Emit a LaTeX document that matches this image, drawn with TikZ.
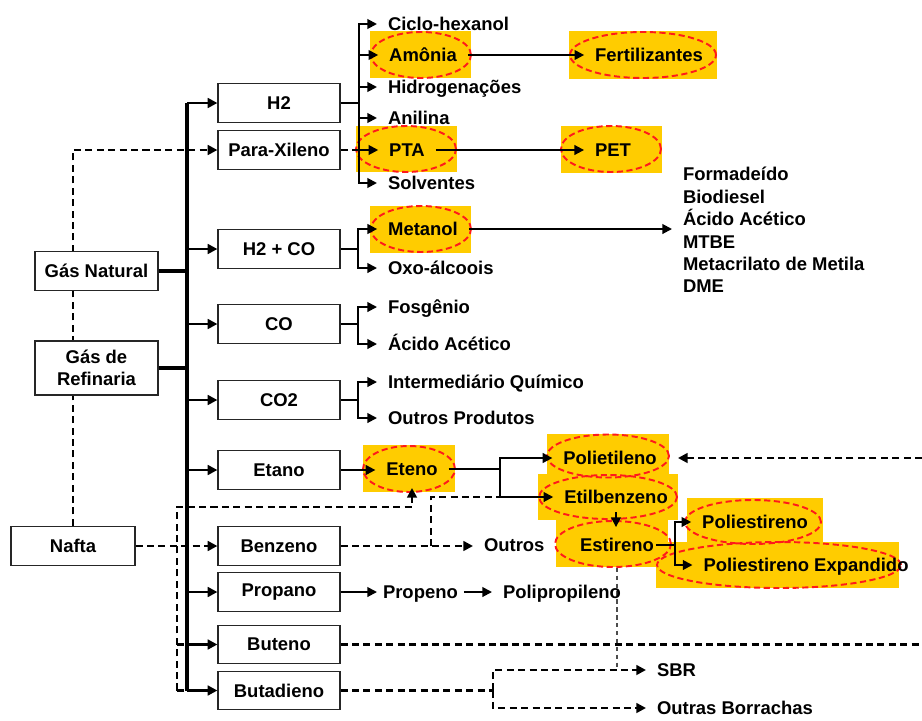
\documentclass[tikz,border=0pt]{standalone}
\usepackage{fontspec}
\setmainfont{Liberation Sans}
\usetikzlibrary{arrows.meta,shapes.geometric,calc,backgrounds}
\definecolor{gold}{HTML}{FFCC00}
\definecolor{dred}{HTML}{FF1A1A}

\begin{document}
\begin{tikzpicture}[x=0.02cm,y=-0.02cm,
  tx/.style={font=\bfseries\fontsize{10.5}{12.8}\selectfont},
  box/.style={tx,draw=black!85,line width=0.7pt,fill=white,minimum width=2.44cm,minimum height=0.77cm,inner sep=0pt,align=center},
  lb/.style={tx,inner sep=0pt,outer xsep=0.22cm,text height=7.5pt,text depth=0pt},
  hle/.style={ellipse,draw=dred,line width=1.1pt,dash pattern=on 3.5pt off 2pt,inner sep=0pt},
  arrowed/.style={-{Triangle[length=5.5pt,width=5.5pt]}},
  trunk/.style={line width=1.8pt},
  tarr/.style={line width=1.4pt,arrowed},
  br/.style={line width=1.1pt},
  dsh/.style={line width=1.5pt,dash pattern=on 4pt off 2.5pt},
  dthin/.style={line width=0.9pt,dash pattern=on 2.5pt off 2pt,black!70},
]
\useasboundingbox (0,0) rectangle (922,720);

% gold highlight backgrounds
\fill[gold] (370,31) rectangle (471,78);
\fill[gold] (569,31) rectangle (717,79);
\fill[gold] (356,126) rectangle (457,172);
\fill[gold] (561,126) rectangle (662,173);
\fill[gold] (370,206) rectangle (471,253);
\fill[gold] (363,445) rectangle (455,492);
\fill[gold] (547,434) rectangle (669,474);
\fill[gold] (538,474) rectangle (678,520);
\fill[gold] (556,520) rectangle (668,567);
\fill[gold] (687,498) rectangle (823,542);
\fill[gold] (656,542) rectangle (899,588);

% dashed red rings
\node[hle,minimum width=2cm,minimum height=0.92cm] (amoniaE) at (421,55) {};
\node[hle,minimum width=2.92cm,minimum height=0.92cm] (fertE) at (643,55) {};
\node[hle,minimum width=2cm,minimum height=0.92cm] (ptaE) at (406,149) {};
\node[hle,minimum width=2cm,minimum height=0.92cm] (petE) at (611,149) {};
\node[hle,minimum width=2cm,minimum height=0.92cm] (metanolE) at (421,229) {};
\node[hle,minimum width=1.84cm,minimum height=0.92cm] (etenoE) at (409,469) {};
\node[hle,minimum width=2.44cm,minimum height=0.86cm] (polieE) at (608,456) {};
\node[hle,minimum width=2.76cm,minimum height=0.88cm] (etilbE) at (608,497) {};
\node[hle,minimum width=2.32cm,minimum height=0.92cm] (estirE) at (613,544) {};
\node[hle,minimum width=2.72cm,minimum height=0.88cm] (pestE) at (753,522) {};
\node[hle,minimum width=4.88cm,minimum height=0.92cm] (pexpE) at (779,565) {};

% highlighted products
\node[lb] (amonia) at (423,55) {Amônia};
\node[lb] (fert) at (649,55) {Fertilizantes};
\node[lb] (pta) at (407,150) {PTA};
\node[lb] (pet) at (613,150) {PET};
\node[lb] (metanol) at (423,229) {Metanol};
\node[lb] (eteno) at (412,469) {Eteno};
\node[lb] (polie) at (610,458) {Polietileno};
\node[lb] (etilb) at (616,497) {Etilbenzeno};
\node[lb,outer xsep=0.04cm] (estir) at (617,545) {Estireno};
\node[lb] (pest) at (755,522) {Poliestireno};
\node[lb] (pexp) at (806,565) {Poliestireno Expandido};

% plain products
\node[lb,anchor=west] (cic) at (377,24) {Ciclo-hexanol};
\node[lb,anchor=west] (hid) at (377,87) {Hidrogenações};
\node[lb,anchor=west] (anil) at (377,118) {Anilina};
\node[lb,anchor=west] (solv) at (377,183) {Solventes};
\node[lb,anchor=west] (oxo) at (377,268) {Oxo-álcoois};
\node[lb,anchor=west] (fosg) at (377,307) {Fosgênio};
\node[lb,anchor=west] (acac) at (377,344) {Ácido Acético};
\node[lb,anchor=west] (inter) at (377,382) {Intermediário Químico};
\node[lb,anchor=west] (outp) at (377,418) {Outros Produtos};
\node[lb,anchor=west] (outros) at (473,545) {Outros};
\node[lb,anchor=west,outer xsep=0.12cm] (propeno) at (377,592) {Propeno};
\node[lb,anchor=west] (polip) at (492,592) {Polipropileno};
\node[lb,anchor=west] (sbr) at (646,670) {SBR};
\node[lb,anchor=west] (oborr) at (646,708) {Outras Borrachas};
\node[tx,anchor=west,align=left,inner sep=0pt,outer xsep=0.22cm] (lista) at (672,230)
  {Formadeído\\Biodiesel\\Ácido Acético\\MTBE\\Metacrilato de Metila\\DME};

% feedstocks and intermediates
\node[box,minimum width=2.46cm] (gn) at (96.5,271) {Gás Natural};
\node[box,minimum width=2.46cm,minimum height=1.08cm] (gr) at (96.5,368) {Gás de\\Refinaria};
\node[box,minimum width=2.48cm,minimum height=0.78cm] (nafta) at (73,546) {Nafta};
\node[box] (h2) at (279,103) {H2};
\node[box] (px) at (279,150) {Para-Xileno};
\node[box] (h2co) at (279,249) {H2 + CO};
\node[box] (co) at (279,324) {CO};
\node[box] (co2) at (279,400) {CO2};
\node[box] (etano) at (279,470) {Etano};
\node[box] (benz) at (279,546) {Benzeno};
\node[box] (prop) at (279,592) {Propano};
\node[box] (but) at (279,644.5) {Buteno};
\node[box] (butd) at (279,690.5) {Butadieno};

% junction points
\coordinate (tTop) at (187,103);
\coordinate (tBot) at (187,690.5);
\coordinate (fH2) at (359,103);
\coordinate (fSyn) at (358,249);
\coordinate (fCO) at (358,324);
\coordinate (fCO2) at (358,400);
\coordinate (fEt) at (500,469);
\coordinate (fSt) at (675,545);
\coordinate (fBd) at (493,690.5);
\coordinate (nvTop) at (177,507);
\coordinate (nvBot) at (177,690.5);
\coordinate (bzUp) at (431,497);
\coordinate (rPE) at (922,458);
\coordinate (rBut) at (922,644.5);

% dashed routes running behind the boxes
\begin{scope}[on background layer]
  \draw[dsh,arrowed] (nafta.north) |- (px.west);
  \draw[dthin] (estir.south) -- (estir.south |- sbr.west);
\end{scope}

% main trunk
\draw[trunk] (tTop) -- (tBot);
\draw[trunk] (gn.east) -- (gn.east -| tTop);
\draw[trunk] (gr.east) -- (gr.east -| tTop);
\foreach \b in {h2,h2co,co,co2,etano,prop,but,butd}
  \draw[tarr] (tTop |- \b.west) -- (\b.west);

% H2 products
\draw[br] (h2.east) -- (fH2);
\foreach \t in {cic,amonia,hid,anil,pta,solv}
  \draw[br,arrowed] (fH2) |- (\t.west);
\draw[dsh] (px.east) -- (px.east -| fH2);
\draw[br,arrowed] (amonia.east) -- (fert.west);
\draw[br,arrowed] (pta.east) -- (pet.west);

% synthesis gas, CO, CO2
\draw[br] (h2co.east) -- (fSyn);
\draw[br,arrowed] (fSyn) |- (metanol.west);
\draw[br,arrowed] (fSyn) |- (oxo.west);
\draw[br,arrowed] (metanol.east) -- (metanol.east -| lista.west);
\draw[br] (co.east) -- (fCO);
\draw[br,arrowed] (fCO) |- (fosg.west);
\draw[br,arrowed] (fCO) |- (acac.west);
\draw[br] (co2.east) -- (fCO2);
\draw[br,arrowed] (fCO2) |- (inter.west);
\draw[br,arrowed] (fCO2) |- (outp.west);

% ethane chain
\draw[br,arrowed] (etano.east) -- (etano.east -| eteno.west);
\draw[br] (eteno.east) -- (fEt);
\draw[br,arrowed] (fEt) |- (polie.west);
\draw[br,arrowed] (fEt) |- (etilb.west);
\draw[br,arrowed] ($(etilb.south)+(0,8)$) -- ($(etilb.south |- estir.north)+(0,-11)$);
\draw[br] (estir.east) -- (fSt);
\draw[br,arrowed] (fSt) |- (pest.west);
\draw[br,arrowed] (fSt) |- (pexp.west);

% propane chain
\draw[br,arrowed] (prop.east) -- (propeno.west);
\draw[br,arrowed] (propeno.east) -- (polip.west);

% naphtha routes
\draw[dsh,arrowed] (nafta.east) -- (benz.west);
\draw[dsh,arrowed] (nvBot) -- (nvTop) -| ($(etenoE.south)+(3,-5)$);
\draw[dsh] (nvTop |- but.west) -- (tTop |- but.west);
\draw[dsh] (nvBot) -- (tBot);
\draw[dsh,arrowed] (benz.east) -- (benz.east -| outros.west);
\draw[dsh] (bzUp |- benz.east) -- (bzUp) -- (fEt |- etilb.west);
\draw[dsh,arrowed] (rPE) -- ($(polieE.east |- rPE)+(8,0)$);
\draw[dsh] (but.east) -- (rBut);
\draw[dsh] (butd.east) -- (fBd);
\draw[dsh,arrowed] (fBd) |- (sbr.west);
\draw[dsh,arrowed] (fBd) |- (oborr.west);
\end{tikzpicture}
\end{document}
